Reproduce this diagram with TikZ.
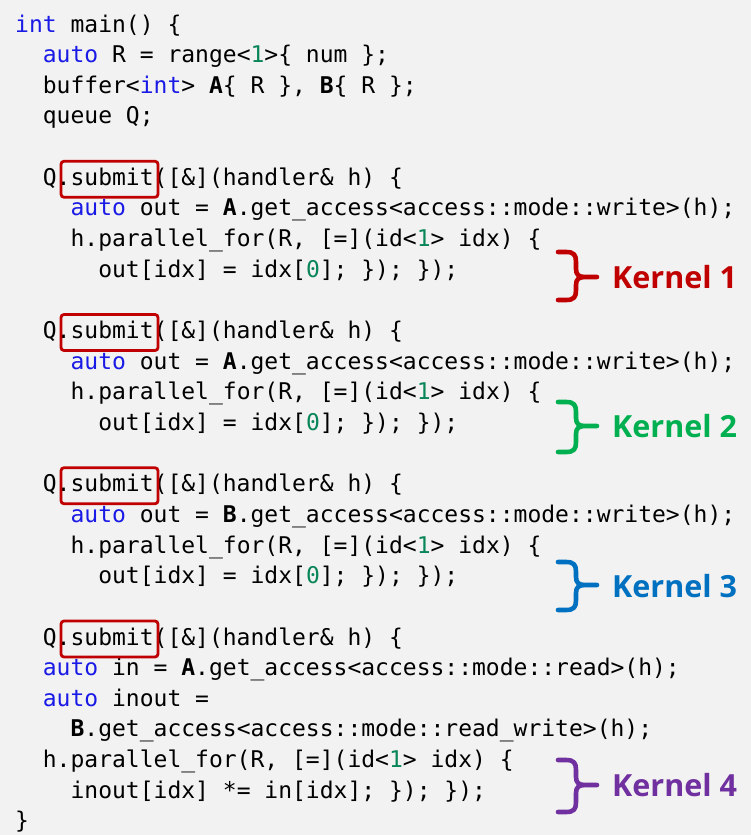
\documentclass[tikz,border=0pt]{standalone}
\usepackage{fontspec}
\setmonofont{DejaVu Sans Mono}
\newfontfamily\kfont{Open Sans}
\definecolor{bg}{HTML}{F2F2F2}
\definecolor{kwc}{HTML}{1A1AE6}
\definecolor{numc}{HTML}{098658}
\definecolor{boxred}{HTML}{C00000}
\definecolor{kred}{HTML}{C00000}
\definecolor{kgreen}{HTML}{00B050}
\definecolor{kblue}{HTML}{0070C0}
\definecolor{kpurple}{HTML}{7030A0}
\newcommand\kw[1]{\textcolor{kwc}{#1}}
\newcommand\nm[1]{\textcolor{numc}{#1}}
\newcommand\kbrace[4]{%
  \draw[brace,#1] (558,#2) -- (566,#2) .. controls (574,#2) and (576,#2+3) .. (576,#2+10)
    -- (576,#3-8) .. controls (576,#3-2) and (579,#3) .. (585,#3) -- (597,#3)
    (585,#3) .. controls (579,#3) and (576,#3+2) .. (576,#3+8)
    -- (576,#4-10) .. controls (576,#4-3) and (574,#4) .. (566,#4) -- (558,#4);}
\begin{document}
\begin{tikzpicture}[x=1pt,y=-1pt,
  code/.style={anchor=base west, inner sep=0pt, font=\ttfamily\fontsize{23}{23}\selectfont, text=black},
  subbox/.style={draw=boxred, line width=2.8pt, rounded corners=3pt, minimum width=97pt, minimum height=36pt, inner sep=0pt},
  brace/.style={line width=4.6pt, line cap=round, line join=round},
  klabel/.style={anchor=west, inner sep=0pt, font=\kfont\bfseries\fontsize{30.5}{30.5}\selectfont}]
\fill[bg] (0,0) rectangle (751,835);
\useasboundingbox (0,0) rectangle (751,835);
% column x: c0=15, c2=42.7, c4=70.4, c6=98.1
\node[code] (l1) at (15,32) {\kw{int} main() \{};
\node[code] (l2) at (42.7,62.65) {\kw{auto} R = range<\nm{1}>\{ num \};};
\node[code] (l3) at (42.7,93.3) {buffer<\kw{int}> \textbf{A}\{ R \}, \textbf{B}\{ R \};};
\node[code] (l4) at (42.7,123.95) {queue Q;};
% kernel 1
\node[code] (l6) at (42.7,185.25) {Q.submit([\&](handler\& h) \{};
\node[code] (l7) at (70.4,215.9) {\kw{auto} out = \textbf{A}.get\_access<access::mode::write>(h);};
\node[code] (l8) at (70.4,246.55) {h.parallel\_for(R, [=](id<\nm{1}> idx) \{};
\node[code] (l9) at (98.1,277.2) {out[idx] = idx[\nm{0}]; \}); \});};
% kernel 2
\node[code] (l11) at (42.7,338.5) {Q.submit([\&](handler\& h) \{};
\node[code] (l12) at (70.4,369.15) {\kw{auto} out = \textbf{A}.get\_access<access::mode::write>(h);};
\node[code] (l13) at (70.4,399.8) {h.parallel\_for(R, [=](id<\nm{1}> idx) \{};
\node[code] (l14) at (98.1,430.45) {out[idx] = idx[\nm{0}]; \}); \});};
% kernel 3
\node[code] (l16) at (42.7,491.75) {Q.submit([\&](handler\& h) \{};
\node[code] (l17) at (70.4,522.4) {\kw{auto} out = \textbf{B}.get\_access<access::mode::write>(h);};
\node[code] (l18) at (70.4,553.05) {h.parallel\_for(R, [=](id<\nm{1}> idx) \{};
\node[code] (l19) at (98.1,583.7) {out[idx] = idx[\nm{0}]; \}); \});};
% kernel 4
\node[code] (l21) at (42.7,645) {Q.submit([\&](handler\& h) \{};
\node[code] (l22) at (42.7,675.65) {\kw{auto} in = \textbf{A}.get\_access<access::mode::read>(h);};
\node[code] (l23) at (42.7,706.3) {\kw{auto} inout =};
\node[code] (l24) at (70.4,736.95) {\textbf{B}.get\_access<access::mode::read\_write>(h);};
\node[code] (l25) at (42.7,767.6) {h.parallel\_for(R, [=](id<\nm{1}> idx) \{};
\node[code] (l26) at (70.4,798.25) {inout[idx] *= in[idx]; \}); \});};
\node[code] (l27) at (15,828.9) {\}};
% submit boxes
\node[subbox] (s1) at (109.5,179.25) {};
\node[subbox] (s2) at (109.5,332.5) {};
\node[subbox] (s3) at (109.5,485.75) {};
\node[subbox] (s4) at (109.5,639) {};
% braces and labels
\kbrace{kred}{252}{277}{300}
\kbrace{kgreen}{402}{426}{452}
\kbrace{kblue}{562}{585}{610}
\kbrace{kpurple}{760}{785}{812}
\node[klabel, text=kred] (k1) at (612,277) {Kernel 1};
\node[klabel, text=kgreen] (k2) at (612,426) {Kernel 2};
\node[klabel, text=kblue] (k3) at (612,586) {Kernel 3};
\node[klabel, text=kpurple] (k4) at (612,785) {Kernel 4};
\end{tikzpicture}
\end{document}
